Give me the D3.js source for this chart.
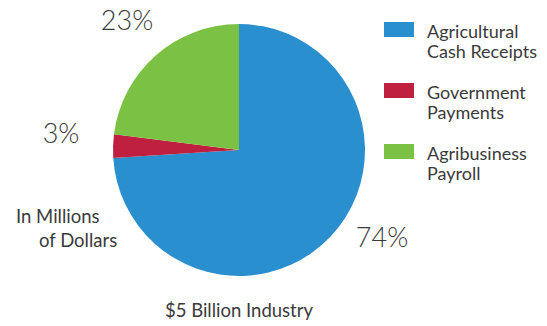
<!DOCTYPE html>
<html>
<head>
<meta charset="utf-8">
<script src="https://cdnjs.cloudflare.com/ajax/libs/d3/7.8.5/d3.min.js"></script>
<style>
  html, body { margin: 0; padding: 0; background: #fff; }
  svg { display: block; }
  text { font-family: Lato, "Open Sans", sans-serif; fill: #3a3a3a; }
</style>
</head>
<body>
<svg id="chart" width="547" height="326"></svg>
<script>
// Share of a $5 billion agricultural industry, by source
const categories = ["Agricultural Cash Receipts", "Government Payments", "Agribusiness Payroll"];
const legendLines = [["Agricultural", "Cash Receipts"], ["Government", "Payments"], ["Agribusiness", "Payroll"]];
const shares = [74, 3, 23];
const colors = ["#2a8fcf", "#c0203f", "#7bc143"];

const svg = d3.select("#chart");
const cx = 239, cy = 150, radius = 126;

const pie = d3.pie().sort(null).value(d => d.value);
const arc = d3.arc().innerRadius(0).outerRadius(radius);
const color = d3.scaleOrdinal().domain(categories).range(colors);

const data = categories.map((c, i) => ({ name: c, value: shares[i] }));
const arcs = pie(data);

const g = svg.append("g").attr("transform", `translate(${cx},${cy})`);
g.selectAll("path")
  .data(arcs)
  .join("path")
  .attr("d", arc)
  .attr("fill", d => color(d.data.name));

// Percentage labels placed outside each slice
const labelPos = [
  { x: 382, y: 247 },
  { x: 61, y: 143 },
  { x: 127, y: 30 }
];
svg.selectAll("text.pct")
  .data(arcs)
  .join("text")
  .attr("class", "pct")
  .attr("x", (d, i) => labelPos[i].x)
  .attr("y", (d, i) => labelPos[i].y)
  .attr("text-anchor", "middle")
  .attr("font-size", 27)
  .attr("font-weight", 300)
  .text(d => d.data.value + "%");

// Legend
const legend = svg.append("g");
const items = legend.selectAll("g")
  .data(categories)
  .join("g")
  .attr("transform", (d, i) => `translate(384,${22 + i * 61})`);
items.append("rect")
  .attr("width", 30)
  .attr("height", 15)
  .attr("fill", d => color(d));
items.append("text")
  .attr("x", 43)
  .attr("y", 16)
  .attr("font-size", 18)
  .selectAll("tspan")
  .data((d, i) => legendLines[i])
  .join("tspan")
  .attr("x", 43)
  .attr("dy", (d, j) => j === 0 ? 0 : 19.5)
  .text(d => d);

// Unit note
svg.append("text").attr("x", 16).attr("y", 223).attr("font-size", 18.5).text("In Millions");
svg.append("text").attr("x", 39).attr("y", 247).attr("font-size", 18.5).text("of Dollars");

// Total
svg.append("text")
  .attr("x", cx)
  .attr("y", 317)
  .attr("text-anchor", "middle")
  .attr("font-size", 18.5)
  .text("$5 Billion Industry");
</script>
</body>
</html>
